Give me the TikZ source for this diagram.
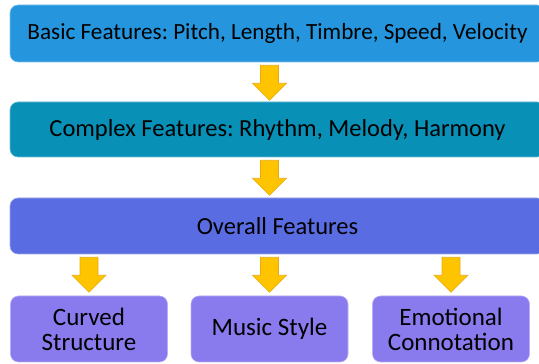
\documentclass[tikz,border=0pt]{standalone}
\usepackage{fontspec}
\setmainfont{Carlito}
\usetikzlibrary{calc}
\definecolor{cbasic}{RGB}{37,150,222}
\definecolor{ccomplex}{RGB}{8,144,183}
\definecolor{coverall}{RGB}{90,108,226}
\definecolor{cleaf}{RGB}{137,122,237}
\definecolor{carrow}{RGB}{255,196,0}
\definecolor{carrowline}{RGB}{232,170,20}
\tikzset{
  box/.style={rounded corners=8pt, inner sep=0pt, align=center, text=black},
  wide/.style={box, minimum width=535pt, font=\fontsize{24.5}{28}\selectfont},
  leaf/.style={box, fill=cleaf, draw=cleaf!60!white, line width=0.6pt, minimum width=157pt, minimum height=66pt,
    font=\fontsize{25}{25}\selectfont},
  downarrow/.pic={
    \draw[fill=carrow, draw=carrowline, line width=0.6pt, line join=miter]
      (-9,0) -- (9,0) -- (9,-18) -- (17,-18) -- (0,-35) -- (-17,-18) -- (-9,-18) -- cycle;
  }
}
\begin{document}
\frenchspacing
\begin{tikzpicture}[x=1pt,y=1pt]
\useasboundingbox (0,0) rectangle (539,364);
\clip (0,0) rectangle (539,364);
\node[wide, fill=cbasic, draw=cbasic!60!white, line width=0.6pt, minimum height=57pt, font=\fontsize{23.2}{28}\selectfont] (basic) at (277.5,330.5)
  {Basic Features: Pitch, Length, Timbre, Speed, Velocity};
\node[wide, fill=ccomplex, draw=ccomplex!60!white, line width=0.6pt, minimum height=55pt] (complex) at (277.5,234.5)
  {Complex Features: Rhythm, Melody, Harmony};
\node[wide, fill=coverall, draw=coverall!60!white, line width=0.6pt, minimum height=56pt] (overall) at (277.5,138)
  {Overall Features};
\node[leaf] (curved) at (89,35) {Curved\\Structure};
\node[leaf] (style) at (269.5,35) {Music Style};
\node[leaf] (emotion) at (451,35) {Emotional\\Connotation};
\coordinate (a1) at ($(style.center |- basic.south)+(0,-3)$);
\coordinate (a2) at ($(style.center |- complex.south)+(0,-3)$);
\coordinate (a3) at ($(curved.center |- overall.south)+(0,-3)$);
\coordinate (a4) at ($(style.center |- overall.south)+(0,-3)$);
\coordinate (a5) at ($(emotion.center |- overall.south)+(0,-3)$);
\pic at (a1) {downarrow};
\pic at (a2) {downarrow};
\pic at (a3) {downarrow};
\pic at (a4) {downarrow};
\pic at (a5) {downarrow};
\end{tikzpicture}
\end{document}
